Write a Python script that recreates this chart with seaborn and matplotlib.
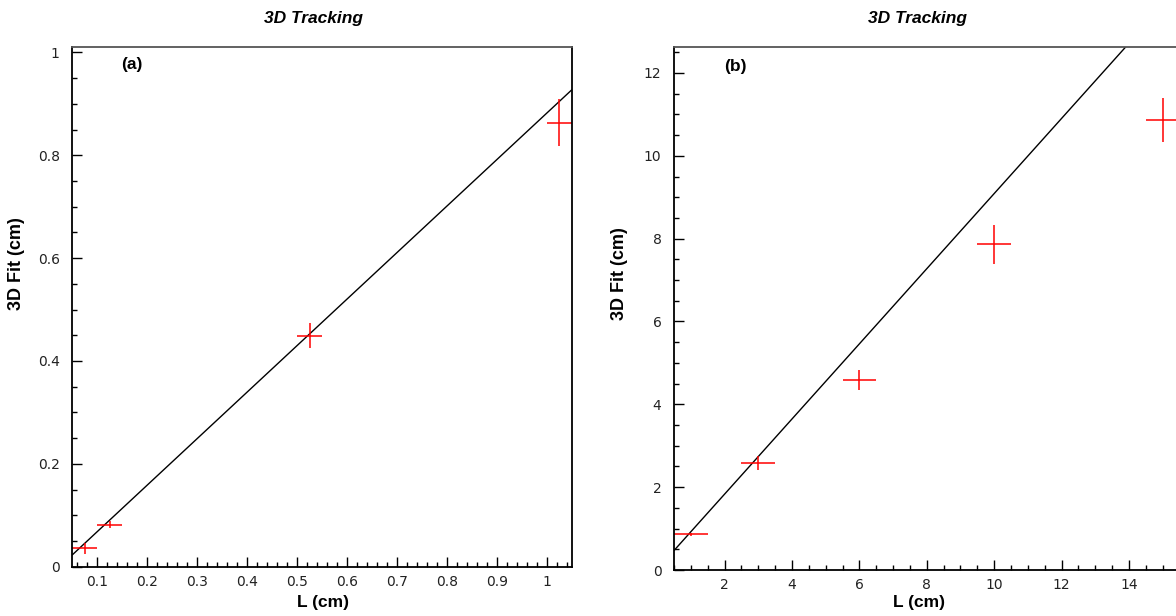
import matplotlib
matplotlib.use('Agg')
import matplotlib.pyplot as plt
import seaborn as sns
from matplotlib.ticker import MultipleLocator, FuncFormatter

# ---------------- data: panel (a) ----------------
a_L = [0.075, 0.125, 0.525, 1.025]
a_fit = [0.036, 0.082, 0.449, 0.863]
a_L_err = [0.025, 0.025, 0.025, 0.025]
a_fit_err = [0.011, 0.006, 0.024, 0.046]
a_line_L = [0.05, 1.05]
a_line_fit = [0.023, 0.927]

# ---------------- data: panel (b) ----------------
b_L = [1, 3, 6, 10, 15]
b_fit = [0.86, 2.58, 4.58, 7.86, 10.86]
b_L_err = [0.5, 0.5, 0.5, 0.5, 0.5]
b_fit_err = [0.03, 0.17, 0.24, 0.48, 0.53]
b_line_L = [0.5, 14.5]
b_line_fit = [0.47, 13.17]

title = "3D Tracking"
xlabel = "L (cm)"
ylabel = "3D Fit (cm)"
panel_tags = ["(a)", "(b)"]

sns.set_style("ticks")
plt.rcParams['font.family'] = ['Liberation Sans', 'DejaVu Sans']
plt.rcParams['text.color'] = 'black'

W, H = 1176, 616
fig = plt.figure(figsize=(W / 100, H / 100), dpi=100)


def px_axes(left, right, top, bottom):
    return fig.add_axes([left / W, 1 - bottom / H, (right - left) / W, (bottom - top) / H])


ax_a = px_axes(72.3, 571.7, 46.7, 566.7)
ax_b = px_axes(674, 674 + 16 * 33.7, 47.3, 570)


def make_fmt(vmax):
    return FuncFormatter(lambda v, p: f"{v:g}" if v <= vmax else "")


def style(ax, xlim, ylim, xmaj, xmin, ymaj, ymin, xlabmax):
    ax.set_xlim(*xlim)
    ax.set_ylim(*ylim)
    ax.xaxis.set_major_locator(MultipleLocator(xmaj))
    ax.xaxis.set_minor_locator(MultipleLocator(xmin))
    ax.yaxis.set_major_locator(MultipleLocator(ymaj))
    ax.yaxis.set_minor_locator(MultipleLocator(ymin))
    ax.xaxis.set_major_formatter(make_fmt(xlabmax))
    ax.yaxis.set_major_formatter(make_fmt(1e9))
    ax.tick_params(which='both', direction='in', top=False, right=False,
                   color='black', labelsize=10, labelcolor='#222222')
    ax.tick_params(which='major', length=7, width=1)
    ax.tick_params(which='minor', length=3.5, width=1)
    ax.tick_params(axis='y', pad=9)
    ax.tick_params(axis='x', pad=6)
    for s in ['left', 'bottom', 'right']:
        ax.spines[s].set_color('black')
        ax.spines[s].set_linewidth(1.3)
    ax.spines['top'].set_color('#555555')
    ax.spines['top'].set_linewidth(1.3)
    ax.set_xlabel('')
    ax.set_ylabel('')


for ax, L, F, Le, Fe, lL, lF in [
    (ax_a, a_L, a_fit, a_L_err, a_fit_err, a_line_L, a_line_fit),
    (ax_b, b_L, b_fit, b_L_err, b_fit_err, b_line_L, b_line_fit),
]:
    sns.lineplot(x=lL, y=lF, color='black', linewidth=1, ax=ax)
    ax.errorbar(L, F, xerr=Le, yerr=Fe, fmt='none', ecolor='red',
                elinewidth=1.1, capsize=0)

style(ax_a, (0.05, 1.05), (0, 1.011), 0.1, 0.02, 0.2, 0.05, 10)
style(ax_b, (0.5, 16.5), (0, 12.62), 2, 0.5, 2, 0.5, 15)

for ax in (ax_a, ax_b):
    for lab in ax.get_xticklabels() + ax.get_yticklabels():
        lab.set_family(['DejaVu Sans'])

# titles
fig.text(314 / W, 1 - 19 / H, title, ha='center', va='center',
         fontweight='bold', style='italic', fontsize=12.5, color='black')
fig.text(918 / W, 1 - 19 / H, title, ha='center', va='center',
         fontweight='bold', style='italic', fontsize=12.5, color='black')

# axis labels
fig.text(323 / W, 1 - 603 / H, xlabel, ha='center', va='center',
         fontweight='bold', fontsize=12.5, color='black')
fig.text(919 / W, 1 - 603 / H, xlabel, ha='center', va='center',
         fontweight='bold', fontsize=12.5, color='black')
fig.text(17 / W, 1 - 264 / H, ylabel, ha='center', va='center',
         rotation=90, fontweight='bold', fontsize=13, color='black')
fig.text(619 / W, 1 - 274 / H, ylabel, ha='center', va='center',
         rotation=90, fontweight='bold', fontsize=13, color='black')

# panel tags
fig.text(132 / W, 1 - 64.7 / H, panel_tags[0], ha='center', va='center',
         fontweight='bold', fontsize=12.5, color='black')
fig.text(735 / W, 1 - 66 / H, panel_tags[1], ha='center', va='center',
         fontweight='bold', fontsize=12.5, color='black')

fig.savefig('out.png', dpi=100)
